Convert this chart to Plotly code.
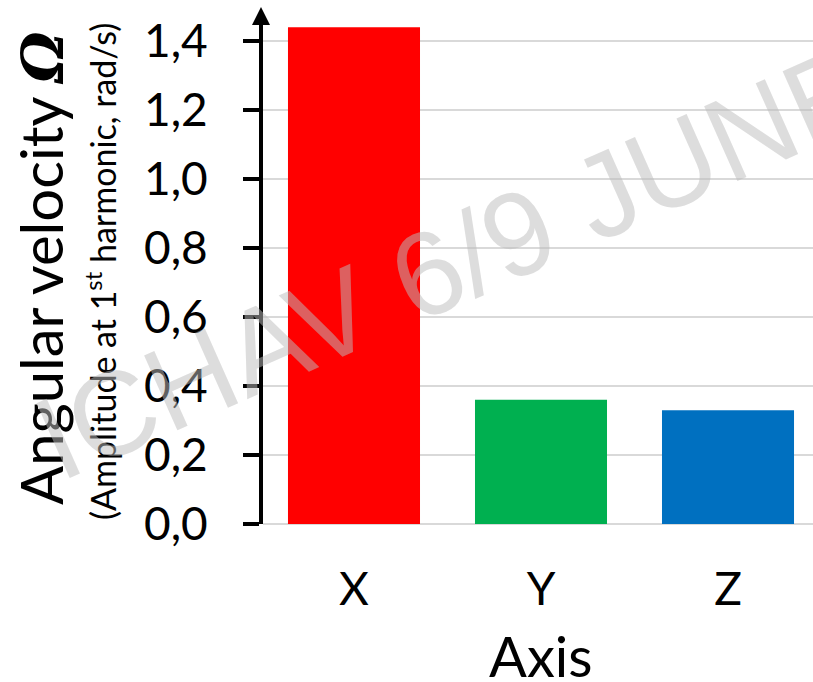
import plotly.graph_objects as go

# Data
axes_labels = ["X", "Y", "Z"]
omega_amplitude = [1.44, 0.36, 0.33]
bar_colors = ["#FF0000", "#00B050", "#0070C0"]
y_tick_values = [0.0, 0.2, 0.4, 0.6, 0.8, 1.0, 1.2, 1.4]

# Figure geometry (pixels)
W, H = 813, 682
L, R, T, B = 263, 813, 25, 524

def px(x):
    return (x - L) / (R - L)

def py(y):
    return (B - y) / (B - T)

FONT = "Lato"
BLACK = "#000000"
GRID = "#D9D9D9"

fig = go.Figure()
fig.add_trace(go.Bar(
    x=axes_labels,
    y=omega_amplitude,
    marker=dict(color=bar_colors, line=dict(width=0)),
    width=0.706,
    showlegend=False,
))

fig.update_layout(
    width=W, height=H,
    margin=dict(l=L, r=W - R, t=T, b=H - B, pad=0),
    paper_bgcolor="white",
    plot_bgcolor="white",
    separators=",.",
    font=dict(family=FONT, color=BLACK),
)

fig.update_xaxes(
    type="category",
    range=[-0.4866, 2.4545],
    showgrid=False,
    showline=False,
    zeroline=False,
    ticks="",
    tickfont=dict(family=FONT, size=46, color=BLACK),
    ticklabelstandoff=34,
)

fig.update_yaxes(
    range=[0, (B - T) / 345.0],
    tickvals=y_tick_values,
    tickformat=".1f",
    showgrid=True,
    gridcolor=GRID,
    gridwidth=2,
    zeroline=True,
    zerolinecolor=GRID,
    zerolinewidth=2,
    showline=True,
    linecolor=BLACK,
    linewidth=4,
    ticks="outside",
    ticklen=16,
    tickwidth=4,
    tickcolor=BLACK,
    tickfont=dict(family=FONT, size=46, color=BLACK),
    ticklabelstandoff=26,
)

# Arrowhead on top of the value axis
tip_y, base_y = 7, 25
ax_x = 261
fig.add_shape(
    type="path",
    xref="paper", yref="paper",
    path=(f"M {px(ax_x - 9)} {py(base_y)} L {px(ax_x)} {py(tip_y)} "
          f"L {px(ax_x + 9)} {py(base_y)} Z"),
    fillcolor=BLACK,
    line=dict(width=0),
    layer="above",
)

# Axis titles
fig.add_annotation(
    xref="paper", yref="paper",
    x=px(41), y=py(268),
    text="Angular velocity <span style=\"font-family:'DejaVu Serif'\"><b><i>Ω</i></b></span>",
    textangle=-90, showarrow=False,
    xanchor="center", yanchor="middle",
    font=dict(family=FONT, size=58, color=BLACK),
)
fig.add_annotation(
    xref="paper", yref="paper",
    x=px(101), y=py(272),
    text="(Amplitude at 1<sup>st</sup> harmonic, rad/s)",
    textangle=-90, showarrow=False,
    xanchor="center", yanchor="middle",
    font=dict(family=FONT, size=34, color=BLACK),
)
fig.add_annotation(
    xref="paper", yref="paper",
    x=px(541), y=py(655),
    text="Axis",
    showarrow=False,
    xanchor="center", yanchor="middle",
    font=dict(family=FONT, size=56, color=BLACK),
)

# Watermark
fig.add_annotation(
    xref="paper", yref="paper",
    x=px(452), y=py(262),
    text="ICHAV 6/9 JUNE",
    textangle=-24, showarrow=False,
    xanchor="center", yanchor="middle",
    font=dict(family="Liberation Sans", size=119, color="rgba(188,188,188,0.51)"),
)

fig.write_html("out.html")
